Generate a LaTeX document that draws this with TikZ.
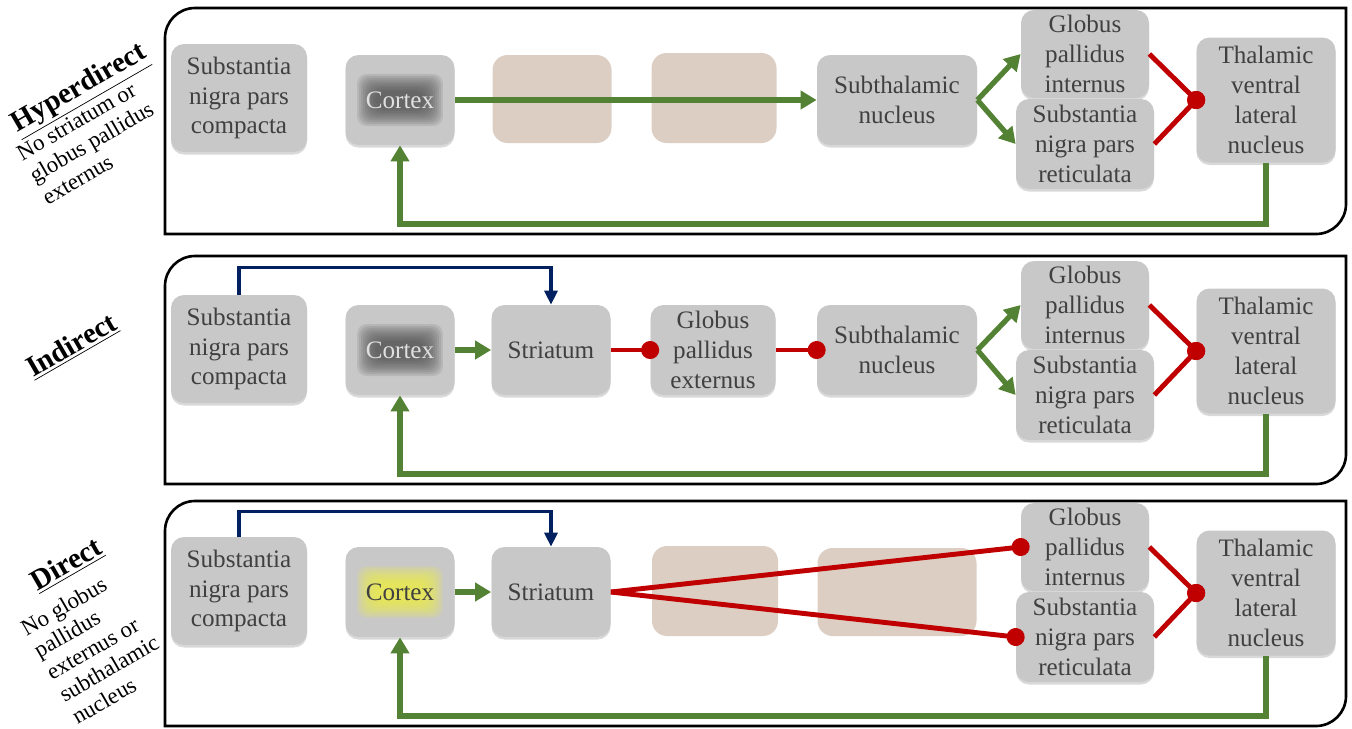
\documentclass[tikz,border=0pt]{standalone}
\usepackage{fontspec}
\setmainfont{Liberation Serif}
\usetikzlibrary{arrows.meta, shadows}
\definecolor{boxgray}{HTML}{C8C8C8}
\definecolor{boxtext}{HTML}{404040}
\definecolor{glowgray}{HTML}{4A4A4A}
\definecolor{glowyellow}{HTML}{F2F23C}
\definecolor{ghost}{HTML}{DDCEC4}
\definecolor{excite}{HTML}{548235}
\definecolor{inhib}{HTML}{C00000}
\definecolor{dopa}{HTML}{002060}

\begin{document}
\begin{tikzpicture}[
  x=0.02cm, y=0.02cm,
  box/.style={rectangle, rounded corners=0.26cm, fill=boxgray, text=boxtext, align=center, inner sep=0pt,
              font=\fontsize{14.3}{17}\selectfont,
              drop shadow={shadow xshift=0pt, shadow yshift=-0.05cm, opacity=0.3}},
  wh/.style 2 args={minimum width=#1*0.02cm, minimum height=#2*0.02cm},
  ghostbox/.style={rectangle, rounded corners=0.3cm, fill=ghost, inner sep=0pt},
  glow/.style={path picture={
    \foreach \k in {0,...,9}
      \fill[#1, opacity=0.13, rounded corners=0.2cm]
        ([shift={(-0.5cm-\k*0.04cm,-0.18cm-\k*0.038cm)}]path picture bounding box.center) rectangle
        ([shift={(0.5cm+\k*0.04cm,0.18cm+\k*0.038cm)}]path picture bounding box.center);}},
  dimglow/.style={text=white!88!black, glow=glowgray},
  litglow/.style={glow=glowyellow},
  exc/.style={-{Triangle[length=0.32cm,width=0.36cm]}, line width=3pt, excite},
  inh/.style={-{Circle[length=0.36cm]}, line width=2.8pt, inhib, shorten >=-0.18cm},
  dop/.style={-{Triangle[length=0.28cm,width=0.26cm]}, line width=1.9pt, dopa},
  frame/.style={line width=1.5pt},
  pathname/.style={rotate=30, inner sep=0pt, font=\fontsize{16.5}{19}\selectfont\bfseries},
  note/.style={rotate=30, align=left, inner sep=0pt, anchor=west, font=\fontsize{13}{14.5}\selectfont}
]
\useasboundingbox (0,0) rectangle (1352,-728);

% frames and the nuclei every pathway shares
\foreach \p/\yc/\ytop/\ybot in {h/100/8/234, i/351/256/484, d/593/501/726} {
  \draw[frame] (165,-\ybot) -- (165,-\ytop-30) arc[start angle=180, end angle=90, radius=30]
    -- (1346,-\ytop) -- (1346,-\ybot+30) arc[start angle=0, end angle=-90, radius=30] -- cycle;
  \node[box, wh={136}{108}] (snc\p) at (239,-\yc+2) {Substantia\\nigra pars\\compacta};
  \node[box, wh={128}{88}] (gpi\p) at (1085,-\yc+46) {Globus\\pallidus\\internus};
  \node[box, wh={138}{90}] (snr\p) at (1085,-\yc-44) {Substantia\\nigra pars\\reticulata};
  \node[box, wh={139}{125}] (thal\p) at (1266,-\yc) {Thalamic\\ventral\\lateral\\nucleus};
}
\node[box, wh={109}{90}, dimglow] (cortexh) at (400,-100) {Cortex};
\node[box, wh={109}{90}, dimglow] (cortexi) at (400,-350) {Cortex};
\node[box, wh={109}{90}, litglow] (cortexd) at (400,-592) {Cortex};

% hyperdirect
\node[ghostbox, wh={119}{88}] (ghost1h) at (552,-99) {};
\node[ghostbox, wh={125}{90}] (ghost2h) at (714,-98) {};
\node[box, wh={160}{90}] (stnh) at (897,-100) {Subthalamic\\nucleus};
\draw[exc] (cortexh) -- (stnh);
\draw[exc] (stnh.east) -- (gpih.west);
\draw[exc] (stnh.east) -- (snrh.west);

% indirect
\node[box, wh={119}{90}] (stri) at (551,-350) {Striatum};
\node[box, wh={125}{90}] (gpei) at (713,-350) {Globus\\pallidus\\externus};
\node[box, wh={160}{90}] (stni) at (897,-350) {Subthalamic\\nucleus};
\draw[exc] (cortexi) -- (stri);
\draw[inh] (stri) -- (gpei);
\draw[inh] (gpei) -- (stni);
\draw[exc] (stni.east) -- (gpii.west);
\draw[exc] (stni.east) -- (snri.west);
\draw[dop] (snci.north) -- ++(0,27) -| (stri.north);

% direct
\node[box, wh={119}{90}] (strd) at (551,-592) {Striatum};
\node[ghostbox, wh={126}{90}] (ghost1d) at (715,-591) {};
\node[ghostbox, wh={159}{88}] (ghost2d) at (897,-592) {};
\draw[exc] (cortexd) -- (strd);
\draw[inh] (strd.east) -- (gpid.west);
\draw[inh] (strd.east) -- (snrd.west);
\draw[dop] (sncd.north) -- ++(0,25) -| (strd.north);

% output to thalamus and back to cortex
\foreach \p/\ybot in {h/234, i/484, d/726} {
  \draw[inh] (gpi\p.east) -- (thal\p.west);
  \draw[inh] (snr\p.east) -- (thal\p.west);
  \draw[exc, line width=3.2pt] (thal\p.south) |- (400,-\ybot+10) -- (cortex\p.south);
}

% pathway names
\node[pathname] (hyperT) at (80,-90) {\underline{Hyperdirect}};
\node[note] (hyperN) at (31,-177) {No striatum or\\globus pallidus\\externus};
\node[pathname] (indT) at (72,-346) {\underline{Indirect}};
\node[pathname] (dirT) at (67,-565) {\underline{Direct}};
\node[note] (dirN) at (48,-674) {No globus\\pallidus\\externus or\\subthalamic\\nucleus};
\end{tikzpicture}
\end{document}
